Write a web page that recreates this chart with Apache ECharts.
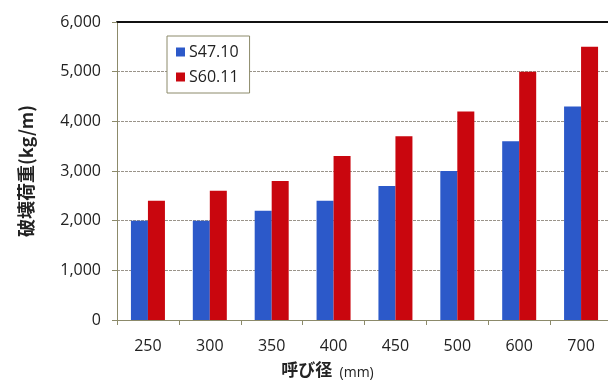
<!DOCTYPE html>
<html>
<head>
<meta charset="utf-8">
<script src="https://cdn.jsdelivr.net/npm/echarts@6/dist/echarts.min.js"></script>
<style>
  html, body { margin: 0; padding: 0; background: #fff; }
  #chart { width: 608px; height: 381px; }
</style>
</head>
<body>
<div id="chart"></div>
<script>
// Nominal diameters (mm)
const categories = ['250', '300', '350', '400', '450', '500', '600', '700'];
// Breaking load (kg/m) by standard
const seriesNames = ['S47.10', 'S60.11'];
const s4710 = [2000, 2000, 2200, 2400, 2700, 3000, 3600, 4300];
const s6011 = [2400, 2600, 2800, 3300, 3700, 4200, 5000, 5500];
const yTicks = [0, 1000, 2000, 3000, 4000, 5000, 6000];

const latin = '"Open Sans", "Noto Sans", sans-serif';
const cjk = '"Noto Sans CJK JP", "Noto Sans", sans-serif';
const axisColor = '#8c8a6a';

const chart = echarts.init(document.getElementById('chart'), null, { renderer: 'canvas' });
chart.setOption({
  animation: false,
  backgroundColor: '#ffffff',
  grid: { left: 117, right: -4, top: 22, bottom: 61, containLabel: false, outerBoundsMode: 'none' },
  legend: {
    data: seriesNames,
    orient: 'vertical',
    left: 167,
    top: 36,
    padding: [8, 11, 8, 9],
    itemWidth: 9,
    itemHeight: 9,
    itemGap: 9,
    borderColor: axisColor,
    borderWidth: 1,
    backgroundColor: '#fff',
    icon: 'rect',
    textStyle: { fontFamily: latin, fontSize: 16, color: '#222', padding: [0, 0, 0, -1] }
  },
  xAxis: [{
    type: 'category',
    data: categories,
    boundaryGap: true,
    name: '{b|呼び径}{n|  (mm)}',
    nameLocation: 'middle',
    nameGap: 40,
    nameTextStyle: {
      padding: [0, 74, 0, 0],
      rich: {
        b: { fontFamily: cjk, fontSize: 17, fontWeight: 'bold', color: '#222', lineHeight: 20 },
        n: { fontFamily: latin, fontSize: 14, color: '#222', lineHeight: 20, verticalAlign: 'bottom' }
      }
    },
    axisLine: { lineStyle: { color: axisColor, width: 1 } },
    axisTick: { show: true, length: 5, lineStyle: { color: axisColor } },
    axisLabel: { fontFamily: latin, fontSize: 16, color: '#222', margin: 18 },
    splitLine: { show: false }
  }, {
    type: 'category',
    data: categories,
    position: 'top',
    axisLine: { lineStyle: { color: '#111', width: 2 } },
    axisTick: { show: false },
    axisLabel: { show: false }
  }],
  yAxis: {
    type: 'value',
    min: yTicks[0],
    max: yTicks[yTicks.length - 1],
    interval: 1000,
    name: '破壊荷重(kg/m)',
    nameLocation: 'middle',
    nameRotate: 90,
    nameGap: 82,
    nameTextStyle: { fontFamily: cjk, fontSize: 18, fontWeight: 'bold', color: '#222' },
    axisLine: { show: true, lineStyle: { color: axisColor, width: 1 } },
    axisTick: { show: true, length: 5, lineStyle: { color: axisColor } },
    axisLabel: {
      fontFamily: latin, fontSize: 16, color: '#222', margin: 16,
      formatter: v => v.toLocaleString('en-US')
    },
    splitLine: { show: true, lineStyle: { color: '#9a948a', width: 1, type: [3, 1] } }
  },
  series: [{
    name: seriesNames[0],
    type: 'bar',
    data: s4710,
    barWidth: 17,
    barGap: '0%',
    itemStyle: { color: '#2c59c9' }
  }, {
    name: seriesNames[1],
    type: 'bar',
    data: s6011,
    barWidth: 17,
    barGap: '0%',
    itemStyle: { color: '#c9060e' }
  }]
});
</script>
</body>
</html>
